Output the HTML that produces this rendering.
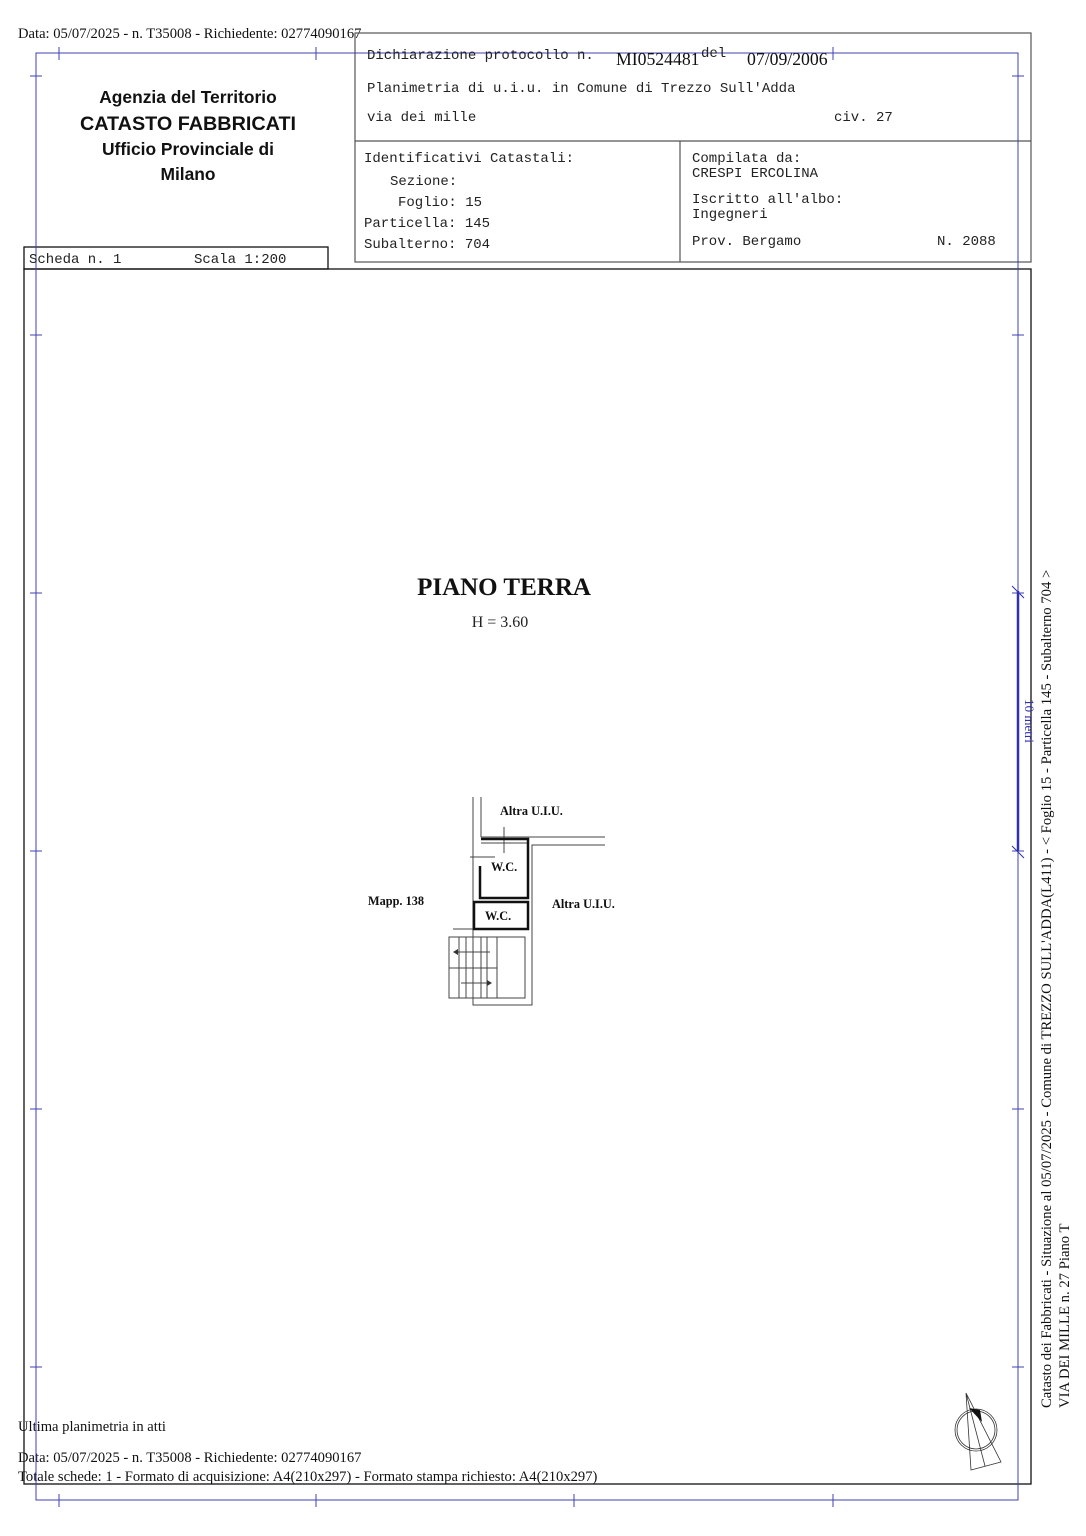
<!DOCTYPE html>
<html><head><meta charset="utf-8"><style>html,body{margin:0;padding:0;background:#fff}svg{display:block}</style></head>
<body>
<svg width="1086" height="1536" viewBox="0 0 1086 1536" xmlns="http://www.w3.org/2000/svg">
<rect width="1086" height="1536" fill="#fff"/>
<g font-family="Liberation Serif, serif" font-size="14.6" fill="#111">
<text x="18" y="38">Data: 05/07/2025 - n. T35008 - Richiedente: 02774090167</text>
<text x="18" y="1431">Ultima planimetria in atti</text>
<text x="18" y="1462">Data: 05/07/2025 - n. T35008 - Richiedente: 02774090167</text>
<text x="18" y="1481">Totale schede: 1 - Formato di acquisizione: A4(210x297)  - Formato stampa richiesto: A4(210x297)</text>
</g>
<!-- header boxes -->
<g fill="none" stroke="#555" stroke-width="1.2">
<rect x="355" y="33" width="676" height="229"/>
<line x1="355" y1="141" x2="1031" y2="141"/>
<line x1="680" y1="141" x2="680" y2="262"/>
</g>
<g fill="none" stroke="#111" stroke-width="1.3">
<rect x="24" y="247" width="304" height="22"/>
<rect x="24" y="269" width="1007" height="1215"/>
</g>
<!-- blue frame -->
<g stroke="#4040b0" stroke-width="1" fill="none">
<rect x="36" y="53" width="982" height="1447"/>
<path d="M59 47V60M316 47V60M833 47V60M59 1494V1507M316 1494V1507M574 1494V1507M833 1494V1507"/>
<path d="M30 76H42M30 335H42M30 593H42M30 851H42M30 1109H42M30 1367H42M1012 76H1024M1012 335H1024M1012 593H1024M1012 851H1024M1012 1109H1024M1012 1367H1024"/>
</g>
<line x1="1018" y1="591" x2="1018" y2="851" stroke="#3030b0" stroke-width="2.5"/>
<path d="M1012 586L1024 598M1012 846L1024 858" stroke="#3030b0"/>
<text transform="translate(1025,721) rotate(90)" font-family="Liberation Serif, serif" font-size="13" fill="#3030b0" text-anchor="middle">10 metri</text>
<!-- logo texts -->
<g font-family="Liberation Sans, sans-serif" font-weight="bold" fill="#111" text-anchor="middle">
<text x="188" y="103" font-size="17.4">Agenzia del Territorio</text>
<text x="188" y="130" font-size="19.8">CATASTO FABBRICATI</text>
<text x="188" y="155" font-size="17.4">Ufficio Provinciale di</text>
<text x="188" y="180" font-size="17.4">Milano</text>
</g>
<g font-family="Liberation Mono, monospace" font-size="14" fill="#222">
<text x="367" y="59">Dichiarazione protocollo n.</text>
<text x="367" y="92">Planimetria di u.i.u. in Comune di Trezzo Sull'Adda</text>
<text x="367" y="121">via dei mille</text>
<text x="834" y="121">civ. 27</text>
<text x="364" y="162">Identificativi Catastali:</text>
<text x="390" y="185">Sezione:</text>
<text x="398" y="206">Foglio: 15</text>
<text x="364" y="227">Particella: 145</text>
<text x="364" y="248">Subalterno: 704</text>
<text x="692" y="162">Compilata da:</text>
<text x="692" y="177">CRESPI ERCOLINA</text>
<text x="692" y="203">Iscritto all'albo:</text>
<text x="692" y="218">Ingegneri</text>
<text x="692" y="245">Prov. Bergamo</text>
<text x="937" y="245">N. 2088</text>
<text x="29" y="263">Scheda n. 1</text>
<text x="194" y="263">Scala 1:200</text>
<text x="701" y="57">del</text>
</g>
<g font-family="Liberation Serif, serif" font-size="17.7" fill="#111">
<text x="616" y="65">MI0524481</text>
<text x="747" y="65">07/09/2006</text>
</g>
<!-- titles -->
<text x="504" y="595" font-family="Liberation Serif, serif" font-weight="bold" font-size="25" text-anchor="middle" fill="#111">PIANO TERRA</text>
<text x="500" y="627" font-family="Liberation Serif, serif" font-size="16" text-anchor="middle" fill="#222">H = 3.60</text>
<!-- floor plan -->
<g stroke="#444" stroke-width="1" fill="none">
<path d="M473 797V1005H532V845H605M481 797V837H605"/>
<line x1="481" y1="843" x2="528" y2="843"/>
<line x1="453" y1="929" x2="473" y2="929"/>
<line x1="504" y1="827" x2="504" y2="853"/>
<line x1="470" y1="857" x2="495" y2="857"/>
<rect x="449" y="937" width="76" height="61"/>
<line x1="449" y1="968" x2="497" y2="968"/>
<path d="M459 937V998M466 937V998M473 937V998M481 937V998M487 937V998M497 937V998"/>
<path d="M455 952H490M461 983H490"/>
</g>
<path d="M453 952l5-3v6zM492 983l-5-3v6z" fill="#333"/>
<g stroke="#111" stroke-width="2.5" fill="none">
<path d="M481 839H528V898H480V866"/>
<rect x="474" y="902" width="54" height="27"/>
</g>
<g font-family="Liberation Serif, serif" font-weight="bold" font-size="12.3" fill="#111">
<text x="500" y="815">Altra U.I.U.</text>
<text x="491" y="871">W.C.</text>
<text x="485" y="920">W.C.</text>
<text x="368" y="905">Mapp. 138</text>
<text x="552" y="908">Altra U.I.U.</text>
</g>
<!-- compass -->
<g stroke="#333" stroke-width="0.8" fill="none">
<circle cx="976" cy="1430" r="21"/>
<circle cx="976" cy="1430" r="19"/>
<path d="M966 1393L971 1470L1001 1462Z M966 1393L985 1466"/>
</g>
<path d="M969 1408L980 1410L982 1422Z" fill="#111"/>
<!-- side text -->
<g font-family="Liberation Serif, serif" font-size="14.7" fill="#111">
<text transform="translate(1051,1408) rotate(-90)">Catasto dei Fabbricati - Situazione al 05/07/2025 - Comune di TREZZO SULL'ADDA(L411) - &lt; Foglio 15 - Particella  145 - Subalterno 704 &gt;</text>
<text transform="translate(1069,1408) rotate(-90)">VIA DEI MILLE n. 27 Piano T</text>
</g>
</svg>
</body></html>
